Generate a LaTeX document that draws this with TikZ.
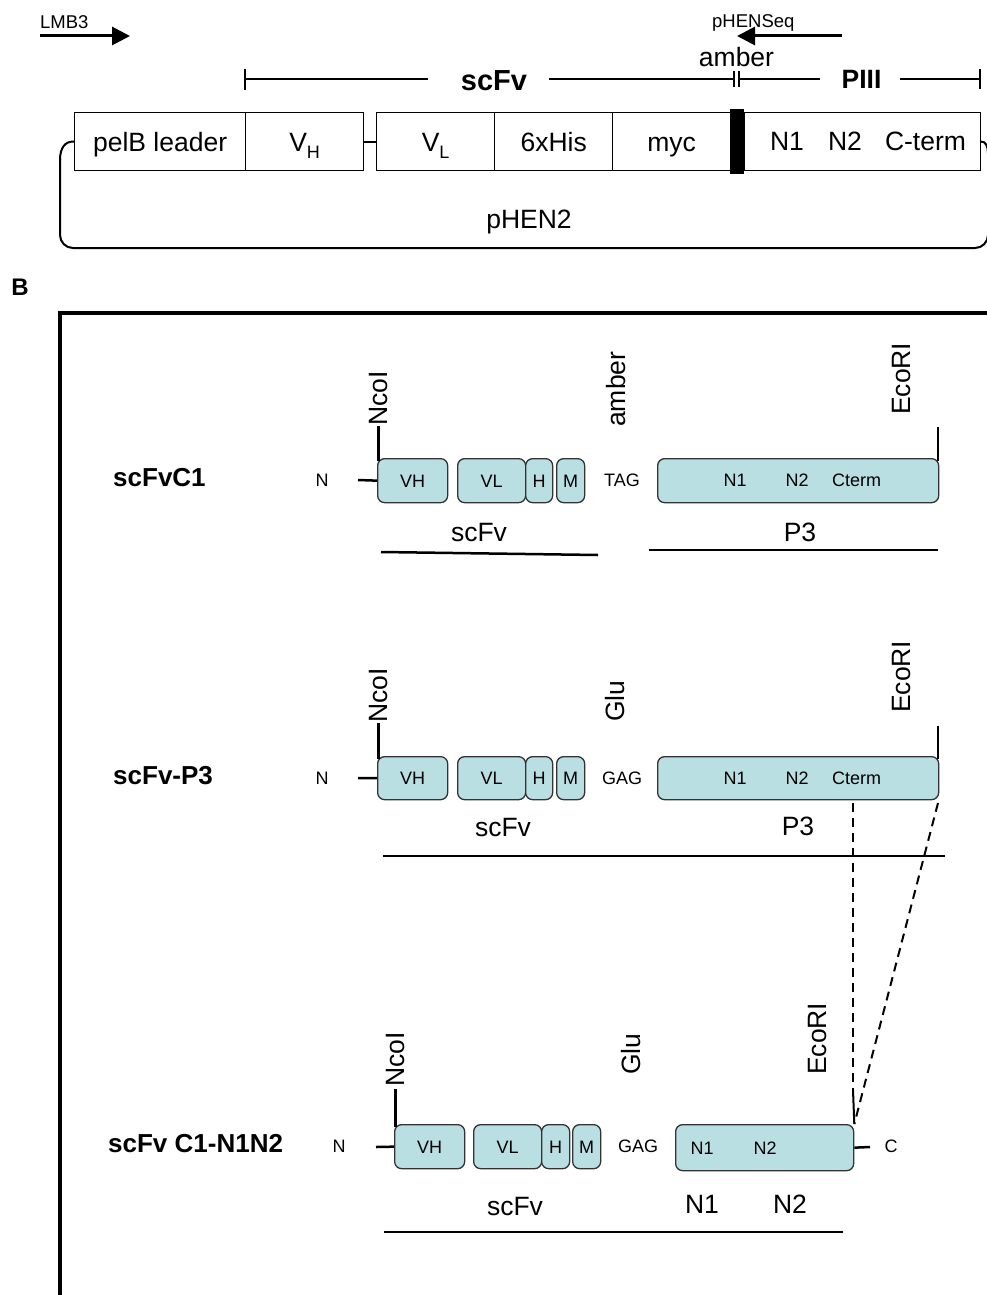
\documentclass[tikz,border=0pt]{standalone}
\usepackage{fontspec}
\setmainfont{Liberation Sans}
\usetikzlibrary{arrows.meta}
\definecolor{boxfill}{HTML}{B9DFE2}
\definecolor{boxline}{HTML}{333333}
\newcommand\fsz[1]{\fontsize{#1}{#1}\selectfont}
\begin{document}
\begin{tikzpicture}[x=1pt,y=-1pt,
  topbox/.style={draw=black, line width=1.3pt, fill=white, minimum height=58pt, inner sep=0pt, anchor=north west, font=\fsz{26.5}, text height=19pt, text depth=0pt},
  pbox/.style={draw=boxline, line width=1.3pt, fill=boxfill, rounded corners=7pt, inner sep=0pt, anchor=north west, font=\fsz{18}, text height=13pt, text depth=0pt},
  smalltxt/.style={font=\fsz{18}, inner sep=0pt, text height=13pt, text depth=0pt},
  bigtxt/.style={font=\fsz{26.5}, inner sep=0pt, text height=19pt, text depth=0pt},
  vlab/.style={rotate=90, anchor=west, inner sep=0pt, font=\fsz{26.5}},
  rowlab/.style={font=\bfseries\fsz{26}, anchor=west, inner sep=0pt, text height=19pt, text depth=0pt},
  conn/.style={line width=2.5pt},
  brk/.style={line width=2pt},
  bb/.style={line width=2pt, line cap=round},
  dsh/.style={line width=2pt, dash pattern=on 9pt off 6pt},
  primer/.style={line width=3pt, -{Triangle[length=18pt,width=18pt]}}
]
\useasboundingbox (0,0) rectangle (987,1295);

% ---------- Part A ----------
\node[font=\fsz{18.5}, anchor=base west, inner sep=0pt] (lmb) at (40,29) {LMB3};
\coordinate (la0) at (40,36); \coordinate (la1) at (130,36);
\draw[primer] (la0) -- (la1);
\node[font=\fsz{18.5}, anchor=base west, inner sep=0pt] (phs) at (712,28) {pHENSeq};
\coordinate (pa0) at (842,36); \coordinate (pa1) at (737,36);
\draw[primer] (pa0) -- (pa1);
\node[font=\fsz{26.5}, anchor=base, inner sep=0pt] (amb) at (736.5,67) {amber};

% bracket
\node[font=\bfseries\fsz{29}, inner sep=0pt, text height=21pt, text depth=0pt] (scfvT) at (494,80) {scFv};
\node[font=\bfseries\fsz{26.5}, inner sep=0pt, text height=19pt, text depth=0pt] (piiiT) at (861.5,79) {PIII};
\coordinate (b0) at (245,79); \coordinate (b1) at (428,79);
\coordinate (b2) at (549,79); \coordinate (b3) at (734,79);
\coordinate (b4) at (739,79); \coordinate (b5) at (820,79);
\coordinate (b6) at (900,79); \coordinate (b7) at (980,79);
\draw[brk] (b0) -- (b1);
\draw[brk] (b2) -- (b3);
\draw[brk] (b4) -- (b5);
\draw[brk] (b6) -- (b7);
\draw[brk] ([yshift=10pt]b0) -- ([yshift=-11pt]b0);
\draw[brk] ([yshift=10pt]b7) -- ([yshift=-10pt]b7);
\draw[line width=1.5pt] ([yshift=8pt]b3) -- ([yshift=-8pt]b3);
\draw[line width=1.5pt] ([yshift=8pt]b4) -- ([yshift=-8pt]b4);

% boxes
\node[topbox, minimum width=171pt] (pel) at (74,112) {pelB leader};
\node[topbox, minimum width=118pt] (vh) at (245,112) {V\raisebox{-7pt}{\fsz{18}H}};
\node[topbox, minimum width=118pt] (vl) at (376,112) {V\raisebox{-7pt}{\fsz{18}L}};
\node[topbox, minimum width=118pt] (his) at (494,112) {6xHis};
\node[topbox, minimum width=118pt] (myc) at (612,112) {myc};
\node[fill=black, minimum width=14pt, minimum height=65pt, inner sep=0pt, anchor=north west] (bar) at (730,109) {};
\node[topbox, minimum width=236pt] (pc) at (744,112) {};
\node[bigtxt] (tn1) at (787,141) {N1};
\node[bigtxt] (tn2) at (845,141) {N2};
\node[bigtxt] (tct) at (925.5,141) {C-term};
\draw[line width=2pt] (vh.east) -- (vl.west);

% backbone
\draw[bb] (pel.west) .. controls (65,141) and (60,148) .. (60,160);
\draw[bb, rounded corners=13pt] (60,159) -- (60,248) -- (988,248) -- (988,152);
\draw[bb] (pc.east) .. controls (985,141) and (988,146) .. (988,153);
\node[bigtxt] (phen) at (529,219) {pHEN2};

% ---------- Part B ----------
\node[font=\bfseries\fsz{24}, inner sep=0pt] (B) at (20,287) {B};
\coordinate (f0) at (60,1300); \coordinate (f1) at (60,313); \coordinate (f2) at (992,313);
\draw[line width=4pt] (f0) -- (f1) -- (f2);

% ----- row 1 -----
\node[rowlab] (lab1) at (113,477) {scFvC1};
\node[smalltxt] (r1n) at (322,480) {N};
\node[pbox, minimum width=70pt, minimum height=44pt] (r1vh) at (377,458) {VH};
\node[pbox, minimum width=68pt, minimum height=44pt] (r1vl) at (457,458) {VL};
\node[pbox, minimum width=27pt, minimum height=44pt] (r1h) at (525,458) {H};
\node[pbox, minimum width=28pt, minimum height=44pt] (r1m) at (556,458) {M};
\node[smalltxt] (r1tag) at (622,480) {TAG};
\node[pbox, minimum width=281pt, minimum height=44pt] (r1p3) at (657,458) {};
\node[smalltxt] (r1n1) at (735,480) {N1};
\node[smalltxt] (r1n2) at (797,480) {N2};
\node[smalltxt] (r1ct) at (856.5,480) {Cterm};
\coordinate (r1nl) at (358,480);
\draw[conn] (r1nl) -- (r1vh.west);
\node[vlab] (r1nco) at (378.5,426) {NcoI};
\draw[conn] (r1nco.west) -- ([yshift=-3pt]r1nco.west |- r1vh.north);
\node[vlab] (r1amb) at (616.5,427) {amber};
\node[vlab] (r1eco) at (901.5,415) {EcoRI};
\coordinate (r1ecl) at (938,427);
\draw[conn] (r1ecl) -- ([yshift=-3pt]r1ecl |- r1p3.north);
\node[bigtxt] (r1scfv) at (479,532) {scFv};
\node[bigtxt] (r1p3l) at (800,532) {P3};
\coordinate (r1a) at (381,552); \coordinate (r1b) at (598,555);
\coordinate (r1c) at (649,550); \coordinate (r1d) at (938,550);
\draw[conn] (r1a) -- (r1b);
\draw[conn] (r1c) -- (r1d);

% ----- row 2 -----
\node[rowlab] (lab2) at (113,775) {scFv-P3};
\node[smalltxt] (r2n) at (322,778) {N};
\node[pbox, minimum width=70pt, minimum height=43pt] (r2vh) at (377,756) {VH};
\node[pbox, minimum width=68pt, minimum height=43pt] (r2vl) at (457,756) {VL};
\node[pbox, minimum width=27pt, minimum height=43pt] (r2h) at (525,756) {H};
\node[pbox, minimum width=28pt, minimum height=43pt] (r2m) at (556,756) {M};
\node[smalltxt] (r2gag) at (622,778) {GAG};
\node[pbox, minimum width=281pt, minimum height=43pt] (r2p3) at (657,756) {};
\node[smalltxt] (r2n1) at (735,778) {N1};
\node[smalltxt] (r2n2) at (797,778) {N2};
\node[smalltxt] (r2ct) at (856.5,778) {Cterm};
\coordinate (r2nl) at (358,778);
\draw[conn] (r2nl) -- (r2vh.west);
\node[vlab] (r2nco) at (378.5,723) {NcoI};
\draw[conn] (r2nco.west) -- ([yshift=-3pt]r2nco.west |- r2vh.north);
\node[vlab] (r2glu) at (615,722) {Glu};
\node[vlab] (r2eco) at (902,713) {EcoRI};
\coordinate (r2ecl) at (938,726);
\draw[conn] (r2ecl) -- ([yshift=-3pt]r2ecl |- r2p3.north);
\node[bigtxt] (r2scfv) at (503,827) {scFv};
\node[bigtxt] (r2p3l) at (798,826) {P3};
\coordinate (r2a) at (383,856); \coordinate (r2b) at (945,856);
\draw[conn] (r2a) -- (r2b);

% ----- row 3 -----
\node[rowlab] (lab3) at (108,1143) {scFv C1-N1N2};
\node[smalltxt] (r3n) at (339,1146) {N};
\node[pbox, minimum width=70pt, minimum height=44pt] (r3vh) at (394,1124) {VH};
\node[pbox, minimum width=68pt, minimum height=44pt] (r3vl) at (473,1124) {VL};
\node[pbox, minimum width=28pt, minimum height=44pt] (r3h) at (541,1124) {H};
\node[pbox, minimum width=28pt, minimum height=44pt] (r3m) at (572,1124) {M};
\node[smalltxt] (r3gag) at (638,1146) {GAG};
\node[pbox, minimum width=178pt, minimum height=46pt] (r3nn) at (675,1124) {};
\node[smalltxt] (r3n1) at (702,1148) {N1};
\node[smalltxt] (r3n2) at (765,1148) {N2};
\coordinate (r3nl) at (376,1147);
\draw[conn] (r3nl) -- (r3vh.west);
\coordinate (r3cl) at (870,1147);
\draw[conn] (r3nn.east) -- (r3cl);
\node[smalltxt] (r3c) at (891,1146) {C};
\node[vlab] (r3nco) at (395.5,1087) {NcoI};
\draw[conn] ([yshift=-2pt]r3nco.west) -- ([yshift=-3pt]r3nco.west |- r3vh.north);
\node[vlab] (r3glu) at (631,1075) {Glu};
\node[vlab] (r3eco) at (817.5,1075) {EcoRI};
\coordinate (r3ecl) at (853,1090);
\draw[line width=2pt] (r3ecl) -- (r3nn.north east);
\node[bigtxt] (r3scfv) at (515,1206) {scFv};
\node[bigtxt] (r3n1b) at (702,1204) {N1};
\node[bigtxt] (r3n2b) at (790,1204) {N2};
\coordinate (r3a) at (384,1232); \coordinate (r3b) at (843,1232);
\draw[conn] (r3a) -- (r3b);

% dashed mapping
\coordinate (d0) at (853,803);
\coordinate (d1) at (938,803);
\draw[dsh] (d0) -- (r3ecl);
\draw[dsh] (d1) -- (r3nn.north east);
\end{tikzpicture}
\end{document}
